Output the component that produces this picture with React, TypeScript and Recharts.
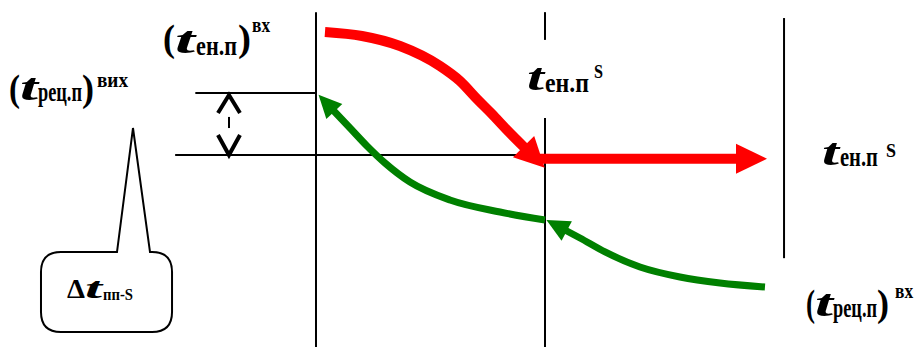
import React from "react";
import {
  ComposedChart,
  Line,
  XAxis,
  YAxis,
  ReferenceLine,
  ReferenceArea,
  ReferenceDot,
} from "recharts";

// x: position along the apparatus (0..100), t: temperature (0..100)
const hotIn = [
  { x: 35.44, t: 90.78 },
  { x: 39.48, t: 89.63 },
  { x: 43.62, t: 86.74 },
  { x: 47.98, t: 80.98 },
  { x: 50.16, t: 76.66 },
  { x: 52.02, t: 71.47 },
  { x: 53.65, t: 67.15 },
  { x: 55.29, t: 62.54 },
  { x: 57.25, t: 57.35 },
];
const hotOut = [
  { x: 58.9, t: 54.26 },
  { x: 80.48, t: 54.26 },
];
const coldRight = [
  { x: 61.61, t: 33.72 },
  { x: 63.25, t: 31.41 },
  { x: 65.98, t: 27.38 },
  { x: 69.79, t: 23.05 },
  { x: 74.15, t: 20.17 },
  { x: 78.52, t: 18.44 },
  { x: 83.42, t: 17.29 },
];
const coldLeft = [
  { x: 36.31, t: 68.3 },
  { x: 38.17, t: 63.11 },
  { x: 40.02, t: 57.93 },
  { x: 41.98, t: 53.03 },
  { x: 44.71, t: 47.55 },
  { x: 49.07, t: 42.36 },
  { x: 54.53, t: 38.9 },
  { x: 59.43, t: 36.6 },
];
const chevronUp = [
  { x: 23.77, t: 67.44 },
  { x: 24.97, t: 72.62 },
  { x: 26.17, t: 67.44 },
];
const chevronDown = [
  { x: 23.77, t: 61.1 },
  { x: 24.97, t: 55.33 },
  { x: 26.17, t: 61.1 },
];

// stations and level lines
const stations = [34.46, 59.43, 85.5];
const levelOut = 73.2;
const levelS = 55.3;

const serif = "Liberation Serif, DejaVu Serif, serif";

type Part = { s: string; dx: number; dy: number; size: number; w: number; italic?: boolean };

const labelParts: { x: number; t: number; parts: Part[] }[] = [
  {
    x: 17.78,
    t: 84.73,
    parts: [
      { s: "(", dx: 0, dy: -2, size: 37, w: 12 },
      { s: "t", dx: 12, dy: 0, size: 38, w: 20, italic: true },
      { s: "ен.п", dx: 33, dy: 2, size: 27, w: 41 },
      { s: ")", dx: 75, dy: -2, size: 37, w: 13 },
      { s: "вх", dx: 89, dy: -21, size: 21, w: 18 },
    ],
  },
  {
    x: 0.98,
    t: 70.89,
    parts: [
      { s: "(", dx: 0, dy: 0, size: 37, w: 11 },
      { s: "t", dx: 11, dy: -1, size: 38, w: 18, italic: true },
      { s: "рец.п", dx: 29, dy: 0, size: 27, w: 44 },
      { s: ")", dx: 73, dy: 0, size: 37, w: 12 },
      { s: "вих", dx: 88, dy: -14, size: 21, w: 31 },
    ],
  },
  {
    x: 57.47,
    t: 74.06,
    parts: [
      { s: "t", dx: 0, dy: 0, size: 38, w: 17, italic: true },
      { s: "ен.п", dx: 18, dy: 2, size: 27, w: 44 },
      { s: "S", dx: 67, dy: -12, size: 18, w: 9 },
    ],
  },
  {
    x: 89.64,
    t: 52.45,
    parts: [
      { s: "t", dx: 0, dy: 0, size: 38, w: 17, italic: true },
      { s: "ен.п", dx: 18, dy: 1, size: 27, w: 38 },
      { s: "S", dx: 64, dy: -8, size: 18, w: 10 },
    ],
  },
  {
    x: 87.9,
    t: 8.93,
    parts: [
      { s: "(", dx: 0, dy: 0, size: 37, w: 9 },
      { s: "t", dx: 9, dy: 0, size: 38, w: 18, italic: true },
      { s: "рец.п", dx: 27, dy: 1, size: 27, w: 44 },
      { s: ")", dx: 71, dy: 0, size: 37, w: 12 },
      { s: "вх", dx: 89, dy: -18, size: 21, w: 18 },
    ],
  },
  {
    x: 7.31,
    t: 14.12,
    parts: [
      { s: "Δ", dx: 0, dy: 0, size: 27, w: 18 },
      { s: "t", dx: 18, dy: 0, size: 29, w: 17, italic: true },
      { s: "пп-S", dx: 36, dy: 2, size: 17, w: 30 },
    ],
  },
];

// arrowhead drawn at one end of a line, oriented along the last segment
const arrowDot = (atEnd: boolean, len: number, hw: number, color: string) => (p: any) => {
  const pts = p.points || [];
  const n = pts.length;
  const i = p.index;
  if (n < 2) return <g key={p.key} />;
  if ((atEnd && i !== n - 1) || (!atEnd && i !== 0)) return <g key={p.key} />;
  const a = atEnd ? pts[n - 2] : pts[1];
  const b = atEnd ? pts[n - 1] : pts[0];
  const dx = b.x - a.x;
  const dy = b.y - a.y;
  const d = Math.hypot(dx, dy) || 1;
  const ux = dx / d;
  const uy = dy / d;
  const bx = b.x - ux * 2;
  const by = b.y - uy * 2;
  const tip = [b.x + ux * len, b.y + uy * len];
  const c1 = [bx - uy * hw, by + ux * hw];
  const c2 = [bx + uy * hw, by - ux * hw];
  return (
    <polygon
      key={p.key}
      points={`${tip[0]},${tip[1]} ${c1[0]},${c1[1]} ${c2[0]},${c2[1]}`}
      fill={color}
      stroke="none"
    />
  );
};

const Formula = (parts: Part[]) => (p: any) => (
  <g>
    {parts.map((q, k) => (
      <text
        key={k}
        x={p.cx + q.dx}
        y={p.cy + q.dy}
        style={{
          fontFamily: serif,
          fontWeight: 700,
          fontStyle: q.italic ? "italic" : "normal",
          fontSize: q.size,
        }}
        textLength={q.w}
        lengthAdjust="spacingAndGlyphs"
        fill="#000"
      >
        {q.s}
      </text>
    ))}
  </g>
);

const Callout = (p: any) => {
  const { x, y, width: w, height: h } = p;
  const top = y + h * 0.608;
  const r = 20;
  const sl = x + w * 0.58;
  const sr = x + w * 0.832;
  const ax = x + w * 0.702;
  const bottom = y + h;
  const right = x + w;
  const d = `M ${x + r} ${top} L ${sl} ${top} L ${ax} ${y} L ${sr} ${top} L ${right - r} ${top}
    Q ${right} ${top} ${right} ${top + r} L ${right} ${bottom - r} Q ${right} ${bottom} ${right - r} ${bottom}
    L ${x + r} ${bottom} Q ${x} ${bottom} ${x} ${bottom - r} L ${x} ${top + r} Q ${x} ${top} ${x + r} ${top} Z`;
  return <path d={d} fill="none" stroke="#000" strokeWidth={2} />;
};

export default function App() {
  return (
    <div style={{ position: "absolute", left: 0, top: 0, width: 917, height: 347, background: "#fff" }}>
      <ComposedChart width={917} height={347} margin={{ top: 0, right: 0, bottom: 0, left: 0 }}>
        <XAxis type="number" dataKey="x" domain={[0, 100]} hide allowDataOverflow />
        <YAxis type="number" dataKey="t" domain={[0, 100]} hide allowDataOverflow />

        <ReferenceLine segment={[{ x: stations[0], y: 96.5 }, { x: stations[0], y: 0 }]} stroke="#000" strokeWidth={2} />
        <ReferenceLine segment={[{ x: stations[1], y: 96.5 }, { x: stations[1], y: 88.5 }]} stroke="#000" strokeWidth={2} />
        <ReferenceLine segment={[{ x: stations[1], y: 66 }, { x: stations[1], y: 0 }]} stroke="#000" strokeWidth={2} />
        <ReferenceLine segment={[{ x: stations[2], y: 94.8 }, { x: stations[2], y: 25.6 }]} stroke="#000" strokeWidth={2} />
        <ReferenceLine segment={[{ x: 21.3, y: levelOut }, { x: stations[0], y: levelOut }]} stroke="#000" strokeWidth={2} />
        <ReferenceLine segment={[{ x: 19.1, y: levelS }, { x: stations[1], y: levelS }]} stroke="#000" strokeWidth={2} />
        <ReferenceLine segment={[{ x: 24.97, y: 66.3 }, { x: 24.97, y: 63.1 }]} stroke="#000" strokeWidth={2} />

        <ReferenceArea x1={4.47} x2={18.76} y1={4.32} y2={63.11} shape={Callout} />

        <Line data={chevronUp} dataKey="t" type="linear" stroke="#000" strokeWidth={4} strokeLinejoin="miter" dot={false} activeDot={false} isAnimationActive={false} />
        <Line data={chevronDown} dataKey="t" type="linear" stroke="#000" strokeWidth={4} strokeLinejoin="miter" dot={false} activeDot={false} isAnimationActive={false} />

        <Line data={hotIn} dataKey="t" type="monotone" stroke="#FF0000" strokeWidth={10} dot={arrowDot(true, 28, 15, "#FF0000")} activeDot={false} isAnimationActive={false} />
        <Line data={hotOut} dataKey="t" type="linear" stroke="#FF0000" strokeWidth={10} dot={arrowDot(true, 29, 15, "#FF0000")} activeDot={false} isAnimationActive={false} />
        <Line data={coldRight} dataKey="t" type="monotone" stroke="#008000" strokeWidth={7} dot={arrowDot(false, 21, 11, "#008000")} activeDot={false} isAnimationActive={false} />
        <Line data={coldLeft} dataKey="t" type="monotone" stroke="#008000" strokeWidth={7} dot={arrowDot(false, 21, 11, "#008000")} activeDot={false} isAnimationActive={false} />

        {labelParts.map((l, k) => (
          <ReferenceDot key={k} x={l.x} y={l.t} r={0} shape={Formula(l.parts)} />
        ))}
      </ComposedChart>
    </div>
  );
}
